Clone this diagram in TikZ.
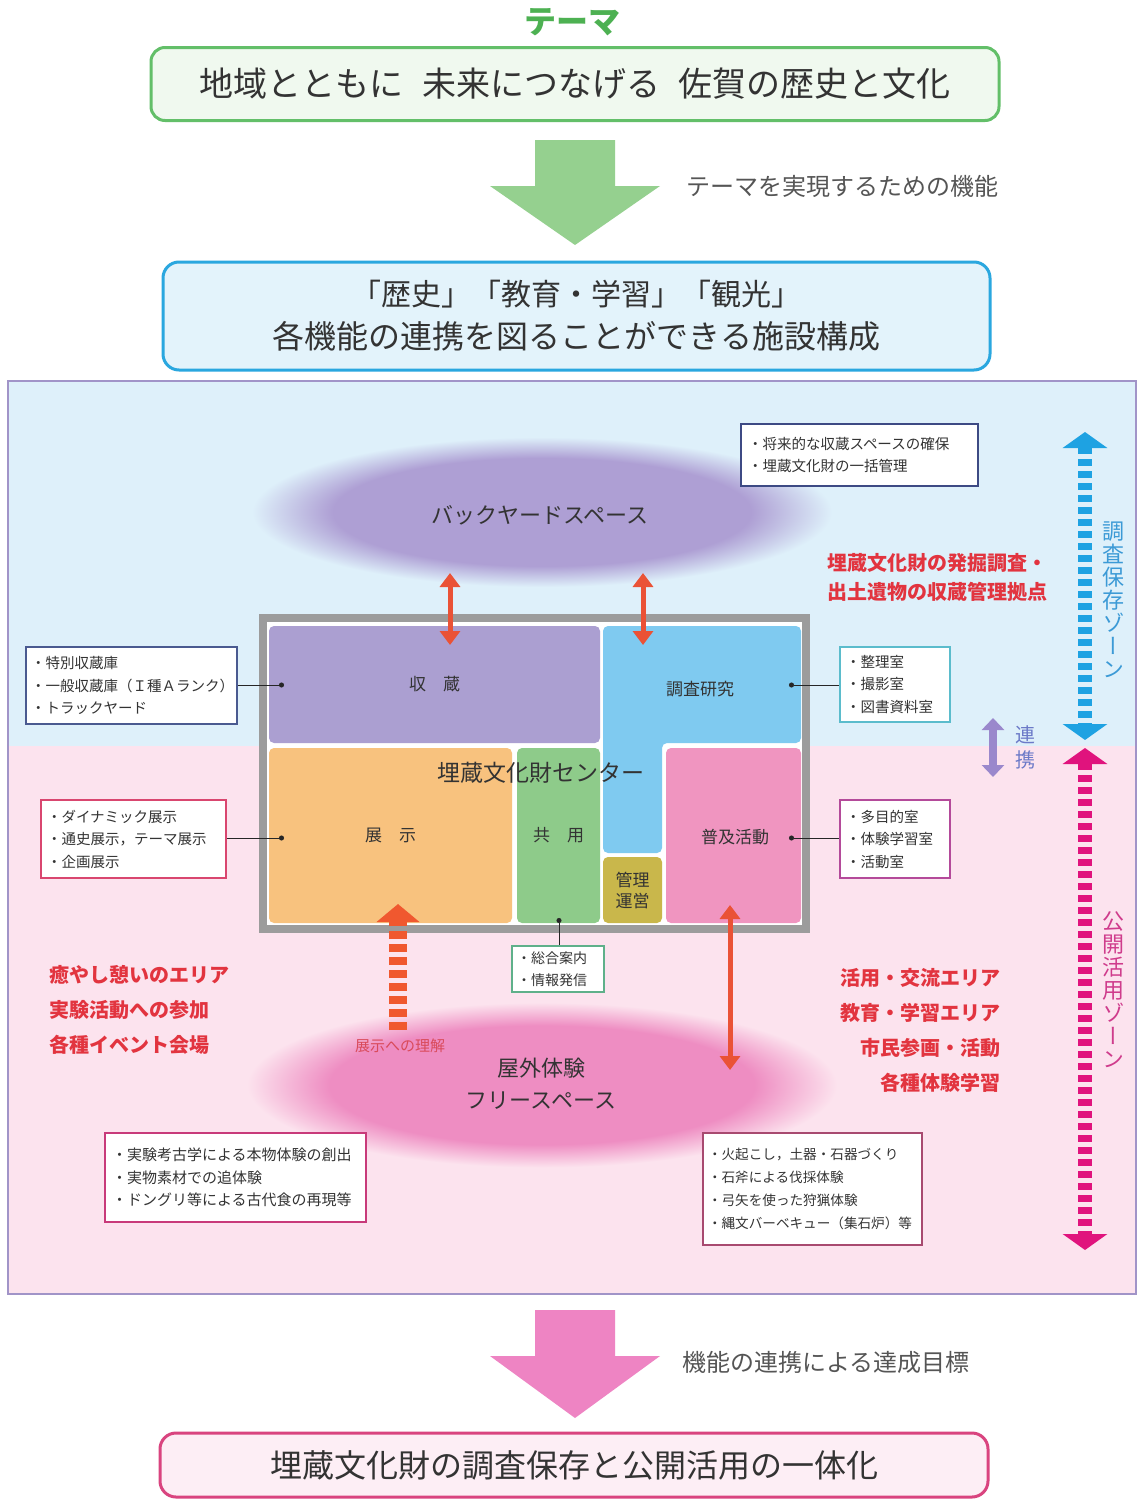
\documentclass[tikz,border=0pt]{standalone}
\usepackage{fontspec}
\setmainfont{Noto Sans CJK JP}
\newfontfamily\jpv[RawFeature=+vert]{Noto Sans CJK JP}
\usetikzlibrary{arrows.meta,shapes.geometric}
\newcommand\fsz[2]{\fontsize{#1}{#2}\selectfont}
\definecolor{themegreen}{HTML}{4DB152}
\definecolor{boxgreen}{HTML}{63BF69}
\definecolor{boxgreenbg}{HTML}{F0F9EF}
\definecolor{arrowgreen}{HTML}{95D08F}
\definecolor{graytext}{HTML}{555555}
\definecolor{boxblue}{HTML}{2AA7DF}
\definecolor{boxbluebg}{HTML}{E3F3FB}
\definecolor{zoneblue}{HTML}{DEF0FA}
\definecolor{zonepink}{HTML}{FCE3EE}
\definecolor{zoneline}{HTML}{A194C8}
\definecolor{backin}{HTML}{AE9FD4}
\definecolor{outin}{HTML}{EE8DC2}
\definecolor{framegray}{HTML}{9C9C9C}
\definecolor{cshuzo}{HTML}{AB9FD1}
\definecolor{cchosa}{HTML}{7FCAF0}
\definecolor{ctenji}{HTML}{F8C27E}
\definecolor{ckyoyo}{HTML}{8ECB8A}
\definecolor{ckanri}{HTML}{C9B74B}
\definecolor{cfukyu}{HTML}{F095C0}
\definecolor{darktext}{HTML}{333333}
\definecolor{redtext}{HTML}{E2343F}
\definecolor{redarrowc}{HTML}{EA5236}
\definecolor{orangearrow}{HTML}{F0582F}
\definecolor{zonebluearrow}{HTML}{1EA2E2}
\definecolor{zonemagarrow}{HTML}{E0137D}
\definecolor{zonebluetext}{HTML}{3C9AD6}
\definecolor{zonemagtext}{HTML}{CF3C8C}
\definecolor{renkei}{HTML}{9A88CC}
\definecolor{renkeitext}{HTML}{6C7AC8}
\definecolor{arrowpink}{HTML}{EE84C3}
\definecolor{boxpink}{HTML}{D9447F}
\definecolor{boxpinkbg}{HTML}{FDEEF5}
\definecolor{bnavy}{HTML}{3D4A84}
\definecolor{bnavytwo}{HTML}{4A5A90}
\definecolor{bteal}{HTML}{5BBCCC}
\definecolor{bcrimson}{HTML}{D9466F}
\definecolor{bpurple}{HTML}{B44A9A}
\definecolor{bgreen}{HTML}{5FB08A}
\definecolor{bpinkred}{HTML}{C83A7A}
\definecolor{bmauve}{HTML}{A84A70}
\definecolor{smalllbl}{HTML}{D94A5A}
\pgfdeclareradialshading{backyardshade}{\pgfpoint{0bp}{0bp}}{color(0bp)=(backin); color(18bp)=(backin); color(25bp)=(zoneblue); color(50bp)=(zoneblue)}
\pgfdeclareradialshading{outdoorshade}{\pgfpoint{0bp}{0bp}}{color(0bp)=(outin); color(18bp)=(outin); color(25bp)=(zonepink); color(50bp)=(zonepink)}
\tikzset{
  infobox/.style={draw, line width=1.6pt, fill=white, align=left, inner sep=0pt, font=\fsz{14.5}{22.5}, text=darktext},
  roombox/.style={rounded corners=5pt, inner sep=0pt, font=\fsz{17}{21}, text=darktext},
  redtxt/.style={font=\fsz{20}{35}\bfseries, text=redtext},
  conn/.style={draw=black!85, line width=1pt, {Circle[length=5pt]}-},
  redarr/.style={draw=redarrowc, line width=5pt, {Triangle[width=20pt,length=14pt]}-{Triangle[width=20pt,length=14pt]}},
  zonearr/.style={line width=14pt, dash pattern=on 7pt off 5pt, {Triangle[width=44pt,length=16pt]}-{Triangle[width=44pt,length=16pt]}},
  bigtitle/.style={line width=3pt, align=center, text=darktext},
}
\begin{document}
\begin{tikzpicture}[x=1pt,y=-1pt]
\useasboundingbox (0,0) rectangle (1137,1499);
\fill[white] (0,0) rectangle (1137,1499);

% theme
\node[font=\fsz{32}{36}\bfseries, text=themegreen] (theme) at (572,22) {テーマ};
\node[bigtitle, draw=boxgreen, fill=boxgreenbg, rounded corners=14pt, minimum width=848pt, minimum height=73pt, font=\fsz{34}{40}] (themebox) at (575,84) {地域とともに\hspace{0.55em}未来につなげる\hspace{0.55em}佐賀の歴史と文化};
\fill[arrowgreen] (535,140) -- (615,140) -- (615,186) -- (660,186) -- (575,245) -- (490,186) -- (535,186) -- cycle;
\node[anchor=west, font=\fsz{24}{28}, text=graytext] (lblone) at (683,186) {テーマを実現するための機能};

\node[bigtitle, draw=boxblue, fill=boxbluebg, rounded corners=16pt, minimum width=827pt, minimum height=108pt, font=\fsz{32}{43}] (facility) at (576.5,316) {{\fsz{30}{43}「歴史」「教育・学習」「観光」}\\各機能の連携を図ることができる施設構成};

% zones
\fill[zoneblue] (8,381) rectangle (1137,746);
\fill[zonepink] (8,746) rectangle (1137,1294);
\draw[zoneline, line width=1.5pt] (8,381) rectangle (1136,1294);

% ellipses
\node[ellipse, inner sep=0pt, minimum width=580pt, minimum height=150pt, shade, shading=backyardshade] (backyard) at (542,512) {};
\node[font=\fsz{22}{26}, text=darktext] (backyardlbl) at (540,515) {バックヤードスペース};
\node[ellipse, inner sep=0pt, minimum width=590pt, minimum height=165pt, shade, shading=outdoorshade] (outdoor) at (542,1085) {};
\node[font=\fsz{22}{32}, text=darktext, align=center] (outdoorlbl) at (541,1084) {屋外体験\\フリースペース};

% building
\node[draw=framegray, line width=8pt, fill=white, minimum width=543pt, minimum height=311pt, inner sep=0pt] (center) at (534.5,773.5) {};
\node[roombox, fill=cshuzo, minimum width=331pt, minimum height=117pt] (shuzo) at (434.5,684.5) {収\hspace{1em}蔵};
\fill[cchosa, rounded corners=5pt] (603,626) -- (801,626) -- (801,743) -- (662,743) -- (662,853) -- (603,853) -- cycle;
\node[font=\fsz{17}{21}, text=darktext] (chosa) at (700,689) {調査研究};
\node[roombox, fill=ctenji, minimum width=243pt, minimum height=175pt] (tenji) at (390.5,835.5) {展\hspace{1em}示};
\node[roombox, fill=ckyoyo, minimum width=83pt, minimum height=175pt] (kyoyo) at (558.5,835.5) {共\hspace{1em}用};
\node[roombox, fill=ckanri, minimum width=59pt, minimum height=66pt, align=center, font=\fsz{17}{21}] (kanri) at (632.5,890) {管理\\運営};
\node[roombox, fill=cfukyu, minimum width=135pt, minimum height=175pt] (fukyu) at (733.5,835.5) {};
\node[font=\fsz{17}{21}, text=darktext] (fukyulbl) at (735,837) {普及活動};
\node[font=\fsz{23}{26}, text=darktext] (centerlbl) at (541,773) {埋蔵文化財センター};

% dots
\coordinate (shuzodot) at (284,685);
\coordinate (chosadot) at (789,685);
\coordinate (tenjidot) at (284,838);
\coordinate (fukyudot) at (789,838);
\coordinate (kyoyodot) at (559,918);

% info boxes
\node[infobox, draw=bnavy, minimum width=237pt, minimum height=62pt, text width=223pt] (storeinfo) at (859.5,455) {・将来的な収蔵スペースの確保\\・埋蔵文化財の一括管理};
\node[infobox, draw=bnavytwo, minimum width=211pt, minimum height=77pt, text width=201pt] (shuzoinfo) at (131.5,685.5) {・特別収蔵庫\\・一般収蔵庫（Ｉ種Ａランク）\\・トラックヤード};
\node[infobox, draw=bteal, minimum width=110pt, minimum height=75pt, text width=98pt] (chosainfo) at (895,684.5) {・整理室\\・撮影室\\・図書資料室};
\node[infobox, draw=bcrimson, minimum width=185pt, minimum height=78pt, text width=173pt] (tenjiinfo) at (133.5,839) {・ダイナミック展示\\・通史展示，テーマ展示\\・企画展示};
\node[infobox, draw=bpurple, minimum width=110pt, minimum height=78pt, text width=98pt] (fukyuinfo) at (895,839) {・多目的室\\・体験学習室\\・活動室};
\node[infobox, draw=bgreen, minimum width=92pt, minimum height=46pt, text width=82pt, font=\fsz{14}{21.5}] (kyoyoinfo) at (558,969) {・総合案内\\・情報発信};
\node[infobox, draw=bpinkred, minimum width=261pt, minimum height=89pt, text width=247pt, font=\fsz{15}{22.5}] (outleftinfo) at (235.5,1177.5) {・実験考古学による本物体験の創出\\・実物素材での追体験\\・ドングリ等による古代食の再現等};
\node[infobox, draw=bmauve, minimum width=219pt, minimum height=112pt, text width=209pt, font=\fsz{13.6}{23}] (outrightinfo) at (812.5,1189) {・火起こし，土器・石器づくり\\・石斧による伐採体験\\・弓矢を使った狩猟体験\\・縄文バーベキュー（集石炉）等};

% connectors
\draw[conn] (shuzodot) -- (shuzoinfo.east |- shuzodot);
\draw[conn] (chosadot) -- (chosainfo.west |- chosadot);
\draw[conn] (tenjidot) -- (tenjiinfo.east |- tenjidot);
\draw[conn] (fukyudot) -- (fukyuinfo.west |- fukyudot);
\draw[conn] (kyoyodot) -- (kyoyodot |- kyoyoinfo.north);

% red arrows
\coordinate (ra1) at (450,573); \coordinate (rb1) at (450,645);
\coordinate (ra2) at (643,573); \coordinate (rb2) at (643,645);
\coordinate (ra3) at (730,905); \coordinate (rb3) at (730,1070);
\draw[redarr] (ra1) -- (rb1);
\draw[redarr] (ra2) -- (rb2);
\draw[redarr] (ra3) -- (rb3);

% orange dashed arrow
\coordinate (oa) at (398,1030); \coordinate (ob) at (398,904);
\draw[orangearrow, line width=18pt, dash pattern=on 8pt off 5pt, -{Triangle[width=42pt,length=18pt]}] (oa) -- (ob);
\node[font=\fsz{15}{18}, text=smalllbl] (tenjiri) at (400,1046) {展示への理解};

% red texts
\node[redtxt, anchor=west, align=left, font=\fsz{20}{29}\bfseries] (redone) at (824,577.5) {埋蔵文化財の発掘調査・\\出土遺物の収蔵管理拠点};
\node[redtxt, anchor=west, align=left] (redleft) at (46,1010) {癒やし憩いのエリア\\実験活動への参加\\各種イベント会場};
\node[redtxt, anchor=east, align=right] (redright) at (1004,1030.5) {活用・交流エリア\\教育・学習エリア\\市民参画・活動\\各種体験学習};

% renkei
\coordinate (rk1) at (993,718); \coordinate (rk2) at (993,777);
\draw[renkei, line width=8pt, {Triangle[width=22pt,length=12pt]}-{Triangle[width=22pt,length=12pt]}] (rk1) -- (rk2);
\node[font=\fsz{20}{25}, text=renkeitext, align=center] (renkeilbl) at (1025,747) {連\\携};

% zone arrows
\coordinate (zb1) at (1085,432); \coordinate (zb2) at (1085,740);
\coordinate (zm1) at (1085,748); \coordinate (zm2) at (1085,1250);
\draw[zonearr, zonebluearrow] (zb1) -- (zb2);
\draw[zonearr, zonemagarrow] (zm1) -- (zm2);
\node[font=\jpv\fsz{22}{23}, text=zonebluetext, align=center] (zonebluelbl) at (1113,600) {調\\査\\保\\存\\ゾ\\ー\\ン};
\node[font=\jpv\fsz{22}{23}, text=zonemagtext, align=center] (zonemaglbl) at (1113,990) {公\\開\\活\\用\\ゾ\\ー\\ン};

% bottom
\fill[arrowpink] (535,1310) -- (615,1310) -- (615,1356) -- (660,1356) -- (575,1418) -- (490,1356) -- (535,1356) -- cycle;
\node[anchor=west, font=\fsz{24}{28}, text=graytext] (lbltwo) at (679,1362) {機能の連携による達成目標};
\node[bigtitle, draw=boxpink, fill=boxpinkbg, rounded corners=16pt, minimum width=828pt, minimum height=64pt, font=\fsz{32}{40}] (goal) at (574,1465) {埋蔵文化財の調査保存と公開活用の一体化};
\end{tikzpicture}
\end{document}
